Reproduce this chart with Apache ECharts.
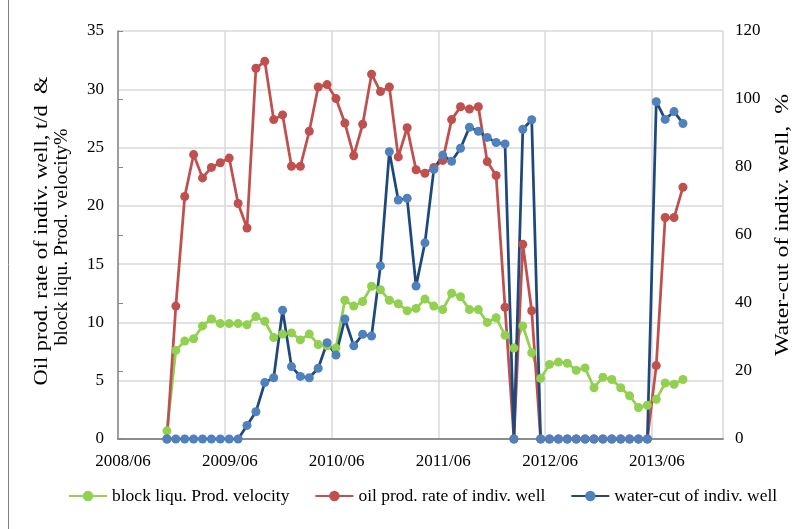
<!DOCTYPE html>
<html lang="en">
<head>
<meta charset="UTF-8">
<title>well production</title>
<style>
  html, body { margin: 0; padding: 0; background: #fff; }
  #chart { width: 806px; height: 529px; }
</style>
<script src="https://cdn.jsdelivr.net/npm/echarts@6/dist/echarts.min.js"></script>
</head>
<body>
<div id="chart"></div>
<script>
  // monthly samples
  var months = [
    '2008/11', '2008/12',
    '2009/01', '2009/02', '2009/03', '2009/04', '2009/05', '2009/06', '2009/07', '2009/08', '2009/09', '2009/10', '2009/11', '2009/12',
    '2010/01', '2010/02', '2010/03', '2010/04', '2010/05', '2010/06', '2010/07', '2010/08', '2010/09', '2010/10', '2010/11', '2010/12',
    '2011/01', '2011/02', '2011/03', '2011/04', '2011/05', '2011/06', '2011/07', '2011/08', '2011/09', '2011/10', '2011/11', '2011/12',
    '2012/01', '2012/02', '2012/03', '2012/04', '2012/05', '2012/06', '2012/07', '2012/08', '2012/09', '2012/10', '2012/11', '2012/12',
    '2013/01', '2013/02', '2013/03', '2013/04', '2013/05', '2013/06', '2013/07', '2013/08', '2013/09'
  ];
  var blockVelocity = [
    0.7, 7.6,
    8.4, 8.6, 9.7, 10.3, 9.9, 9.9, 9.9, 9.8, 10.5, 10.1, 8.7, 9.0,
    9.1, 8.5, 9.0, 8.1, 8.0, 7.8, 11.9, 11.4, 11.8, 13.1, 12.8, 11.9,
    11.6, 11.0, 11.2, 12.0, 11.4, 11.1, 12.5, 12.2, 11.1, 11.1, 10.0, 10.4,
    8.9, 7.8, 9.7, 7.4, 5.2, 6.4, 6.6, 6.5, 5.9, 6.1, 4.4, 5.3,
    5.1, 4.4, 3.7, 2.7, 2.9, 3.4, 4.8, 4.7, 5.1
  ];
  var oilRate = [
    0, 11.4,
    20.8, 24.4, 22.4, 23.3, 23.7, 24.1, 20.2, 18.1, 31.8, 32.4, 27.4, 27.8,
    23.4, 23.4, 26.4, 30.2, 30.4, 29.2, 27.1, 24.3, 27.0, 31.3, 29.8, 30.2,
    24.2, 26.7, 23.1, 22.8, 23.3, 23.9, 27.4, 28.5, 28.3, 28.5, 23.8, 22.6,
    11.3, 0, 16.7, 11.0, 0, 0, 0, 0, 0, 0, 0, 0,
    0, 0, 0, 0, 0, 6.3, 19.0, 19.0, 21.6
  ];
  var waterCut = [
    0, 0,
    0, 0, 0, 0, 0, 0, 0, 4, 8.0, 16.6, 18.0, 37.9,
    21.3, 18.4, 18.0, 20.8, 28.3, 24.7, 35.3, 27.4, 30.8, 30.3, 50.9, 84.5,
    70.3, 70.8, 45.0, 57.7, 79.3, 83.5, 81.7, 85.5, 91.7, 90.5, 88.7, 87.2,
    86.8, 0, 91.1, 93.9, 0, 0, 0, 0, 0, 0, 0, 0,
    0, 0, 0, 0, 0, 99.2, 94.0, 96.3, 92.8
  ];
  var seriesNames = ['block liqu. Prod. velocity', 'oil prod. rate of indiv. well', 'water-cut of indiv. well'];
  var leftTitle = ['Oil prod. rate of indiv. well, t/d  &', 'block liqu. Prod. velocity%'];
  var rightTitle = 'Water-cut of indiv. well,  %';

  // months since 2008/06, sample placed mid-month
  function monthPos(s) {
    var p = s.split('/');
    return (parseInt(p[0], 10) - 2008) * 12 + (parseInt(p[1], 10) - 6) + 0.5;
  }
  function pairs(vals) {
    return months.map(function (m, i) { return [monthPos(m), vals[i]]; });
  }

  var serif = 'Liberation Serif';
  // rotated titles, stretched along their length like the original picture
  function vTitle(text, x, y, stretch) {
    return {
      type: 'text', x: x, y: y, rotation: Math.PI / 2, scaleX: stretch,
      style: { text: text, font: '18px "Liberation Serif"', fill: '#000', align: 'center', verticalAlign: 'middle' }
    };
  }

  var chart = echarts.init(document.getElementById('chart'));
  chart.setOption({
    animation: false,
    textStyle: { fontFamily: serif },
    grid: { left: 118, right: 83, top: 31, bottom: 90 },
    legend: {
      left: 63, top: 482,
      itemWidth: 38, itemHeight: 13, itemGap: 25,
      textStyle: { fontFamily: serif, fontSize: 17.5, color: '#000' },
      data: seriesNames
    },
    graphic: [
      { type: 'line', shape: { x1: 8.5, y1: 0, x2: 8.5, y2: 529 }, style: { stroke: '#808080', lineWidth: 1 } },
      vTitle(leftTitle[0], 42, 231, 1.25),
      vTitle(leftTitle[1], 62, 237, 1.1),
      vTitle(rightTitle, 783, 225, 1.32)
    ],
    xAxis: [{
      type: 'value', min: 0, max: 68, interval: 12,
      axisLine: { lineStyle: { color: '#868686', width: 1.5 } },
      axisTick: { show: false },
      axisLabel: {
        fontFamily: serif, fontSize: 17, color: '#000', margin: 14, padding: [0, 0, 0, 10],
        formatter: function (v) { return v % 12 === 0 ? (2008 + v / 12) + '/06' : ''; }
      },
      splitLine: { lineStyle: { color: '#D9D9D9', width: 1.5 } }
    }, {
      type: 'value', position: 'top', min: 0, max: 68,
      axisLine: { show: true, lineStyle: { color: '#868686', width: 1.5 } },
      axisTick: { show: false }, axisLabel: { show: false }, splitLine: { show: false }
    }],
    yAxis: [{
      type: 'value', min: 0, max: 35, interval: 5,
      axisLine: { show: false }, axisTick: { show: false },
      axisLabel: { fontFamily: serif, fontSize: 17, color: '#000', margin: 14 },
      splitLine: { lineStyle: { color: '#D9D9D9', width: 1.5 } }
    }, {
      type: 'value', min: 0, max: 120, interval: 20, position: 'right',
      axisLine: { show: true, lineStyle: { color: '#868686', width: 1.5 } },
      axisTick: { show: true, length: 5, lineStyle: { color: '#868686' } },
      axisLabel: { fontFamily: serif, fontSize: 17, color: '#000', margin: 12 },
      splitLine: { show: false }
    }],
    series: [{
      name: seriesNames[0], type: 'line', data: pairs(blockVelocity),
      symbol: 'circle', symbolSize: 9, showAllSymbol: true,
      lineStyle: { color: '#92D050', width: 2.75 },
      itemStyle: { color: '#92D050' }
    }, {
      name: seriesNames[1], type: 'line', data: pairs(oilRate),
      symbol: 'circle', symbolSize: 9, showAllSymbol: true,
      lineStyle: { color: '#C0504D', width: 2.75 },
      itemStyle: { color: '#C0504D' }
    }, {
      name: seriesNames[2], type: 'line', yAxisIndex: 1, data: pairs(waterCut),
      symbol: 'circle', symbolSize: 9, showAllSymbol: true,
      lineStyle: { color: '#1F497D', width: 2.75 },
      itemStyle: { color: '#4F81BD' }
    }]
  });
</script>
</body>
</html>
